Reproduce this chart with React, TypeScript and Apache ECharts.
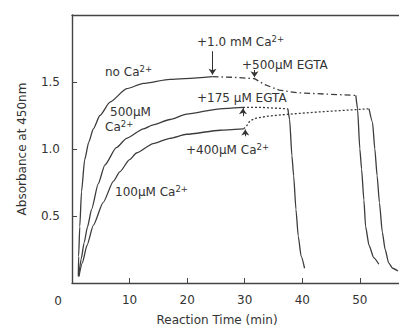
import React, { useEffect, useRef } from "react";
import * as echarts from "echarts";

// ---- data (minutes, absorbance at 450 nm) ----
const xTicks = [10, 20, 30, 40, 50];
const yTicks = [0.5, 1.0, 1.5];

const noCaRise = [[1.1,0.05],[1.15,0.2],[1.35,0.42],[1.65,0.68],[2.2,0.92],[2.9,1.05],[3.7,1.15],[4.85,1.25],[6.6,1.35],[9.5,1.45],[12.4,1.49],[17,1.52],[24.4,1.54]];
const noCaAfter = [[24.4,1.54],[28,1.535],[31.7,1.525],[33.5,1.48],[36,1.44],[39,1.42],[44,1.41],[49.3,1.40]];
const noCaDrop = [[49.3,1.40],[49.6,1.3],[50.0,1.0],[50.3,0.85],[50.7,0.62],[51.0,0.42],[51.6,0.28],[52.4,0.19],[53.3,0.14]];

const ca500Rise = [[1.15,0.05],[1.6,0.18],[2.1,0.3],[2.7,0.42],[3.4,0.55],[4.55,0.74],[5.7,0.88],[7.7,1.01],[9.5,1.08],[12.4,1.15],[14.1,1.18],[17,1.22],[19.9,1.26],[25.7,1.30],[29.7,1.31]];
const ca500After = [[29.7,1.31],[33,1.31],[37.5,1.30]];
const ca500Drop = [[37.5,1.30],[37.8,1.22],[38.2,0.95],[38.5,0.8],[38.9,0.55],[39.3,0.35],[39.8,0.2],[40.4,0.11]];

const ca100Rise = [[1.2,0.05],[1.8,0.15],[2.6,0.28],[3.7,0.43],[5.4,0.6],[7.2,0.76],[8.3,0.83],[10,0.92],[11.2,0.97],[14.1,1.04],[17,1.08],[19.9,1.11],[25.7,1.14],[29.8,1.15]];
const ca100After = [[29.8,1.15],[30.3,1.17],[30.9,1.21],[32,1.23],[34,1.245],[37.7,1.26],[44,1.28],[51.6,1.30]];
const ca100Drop = [[51.6,1.30],[52.2,1.2],[52.6,1.0],[53.0,0.8],[53.4,0.6],[53.9,0.38],[54.4,0.25],[55.0,0.15],[55.7,0.11],[56.6,0.09]];

// arrows: [x, yFrom, yTo]
const arrows = [
  [24.4, 1.73, 1.555],
  [31.7, 1.59, 1.535],
  [29.7, 1.245, 1.305],
  [30.1, 1.095, 1.145],
];

const FONT = '"DejaVu Sans", sans-serif';
const INK = "#333";
const LINE = "#3c3c3c";

function seg(name: string, data: number[][], type: any, smooth: number | boolean, extra: any = {}) {
  return {
    name,
    type: "line",
    data,
    showSymbol: false,
    symbol: "none",
    smooth,
    smoothMonotone: "x",
    silent: true,
    lineStyle: { color: LINE, width: 1.3, type },
    ...extra,
  };
}

const rich = {
  s: { fontSize: 8.5, fontFamily: FONT, fill: INK, color: INK, padding: [0, 0, 7, 0] },
};

function txt(text: string, x: number, y: number, size = 12, extra: any = {}) {
  return {
    type: "text",
    x,
    y,
    silent: true,
    ...extra,
    style: {
      text,
      fill: INK,
      fontSize: size,
      fontFamily: FONT,
      align: extra.align || "left",
      verticalAlign: "middle",
      rich,
    },
  };
}

export default function App() {
  const ref = useRef<HTMLDivElement>(null);
  useEffect(() => {
    if (!ref.current) return;
    const chart = echarts.init(ref.current, undefined, { renderer: "svg" });
    const markLine = {
      silent: true,
      symbol: ["none", "arrow"],
      symbolSize: 6,
      label: { show: false },
      lineStyle: { color: INK, width: 1, type: "solid" },
      data: arrows.map(([x, a, b]) => [{ coord: [x, a] }, { coord: [x, b] }]),
    };
    chart.setOption({
      animation: false,
      grid: { left: 72, top: 15, right: 0, bottom: 44 },
      xAxis: [
        {
          type: "value",
          min: 0,
          max: 56.8,
          axisLine: { show: true, lineStyle: { color: "#444", width: 1.4 } },
          axisTick: { show: true, inside: true, length: 5, customValues: xTicks, lineStyle: { color: "#444" } },
          axisLabel: { customValues: xTicks, margin: 11, fontSize: 12, color: INK, fontFamily: FONT },
          splitLine: { show: false },
        },
        {
          type: "value",
          position: "top",
          min: 0,
          max: 56.8,
          axisLine: { show: true, lineStyle: { color: "#444", width: 1.4 } },
          axisTick: { show: false },
          axisLabel: { show: false },
          splitLine: { show: false },
        },
      ],
      yAxis: {
        type: "value",
        min: 0,
        max: 2.0,
        axisLine: { show: true, lineStyle: { color: "#444", width: 1.4 } },
        axisTick: { show: true, inside: true, length: 5, customValues: yTicks, lineStyle: { color: "#444" } },
        axisLabel: {
          customValues: yTicks,
          formatter: (v: number) => v.toFixed(1),
          margin: 12,
          fontSize: 12,
          color: INK,
          fontFamily: FONT,
        },
        splitLine: { show: false },
      },
      series: [
        seg("noCaRise", noCaRise, "solid", 0.2, { markLine }),
        seg("noCaAfter", noCaAfter, [6, 3, 1.5, 3], false),
        seg("noCaDrop", noCaDrop, "solid", 0.2),
        seg("ca500Rise", ca500Rise, "solid", 0.2),
        seg("ca500After", ca500After, [2, 2], false),
        seg("ca500Drop", ca500Drop, "solid", 0.2),
        seg("ca100Rise", ca100Rise, "solid", 0.2),
        seg("ca100After", ca100After, [2, 2], false),
        seg("ca100Drop", ca100Drop, "solid", 0.2),
      ],
      graphic: [
        txt("0", 58, 301, 12, { align: "center" }),
        txt("Reaction Time (min)", 217, 320, 12, { align: "center" }),
        txt("Absorbance at 450nm", 22, 149, 12, { align: "center", rotation: Math.PI / 2 }),
        txt("no Ca{s|2+}", 105, 72, 12),
        txt("500µM", 110, 112, 12),
        txt("Ca{s|2+}", 105, 127, 12),
        txt("100µM Ca{s|2+}", 115, 192, 12),
        txt("+1.0 mM Ca{s|2+}", 197, 42, 12),
        txt("+500µM EGTA", 242, 65, 12),
        txt("+175 µM EGTA", 197, 98, 12),
        txt("+400µM Ca{s|2+}", 186, 150, 12),
      ],
    });
    return () => chart.dispose();
  }, []);
  return (
    <div
      ref={ref}
      style={{ position: "fixed", left: 0, top: 0, width: 399, height: 327, background: "#fff" }}
    />
  );
}
